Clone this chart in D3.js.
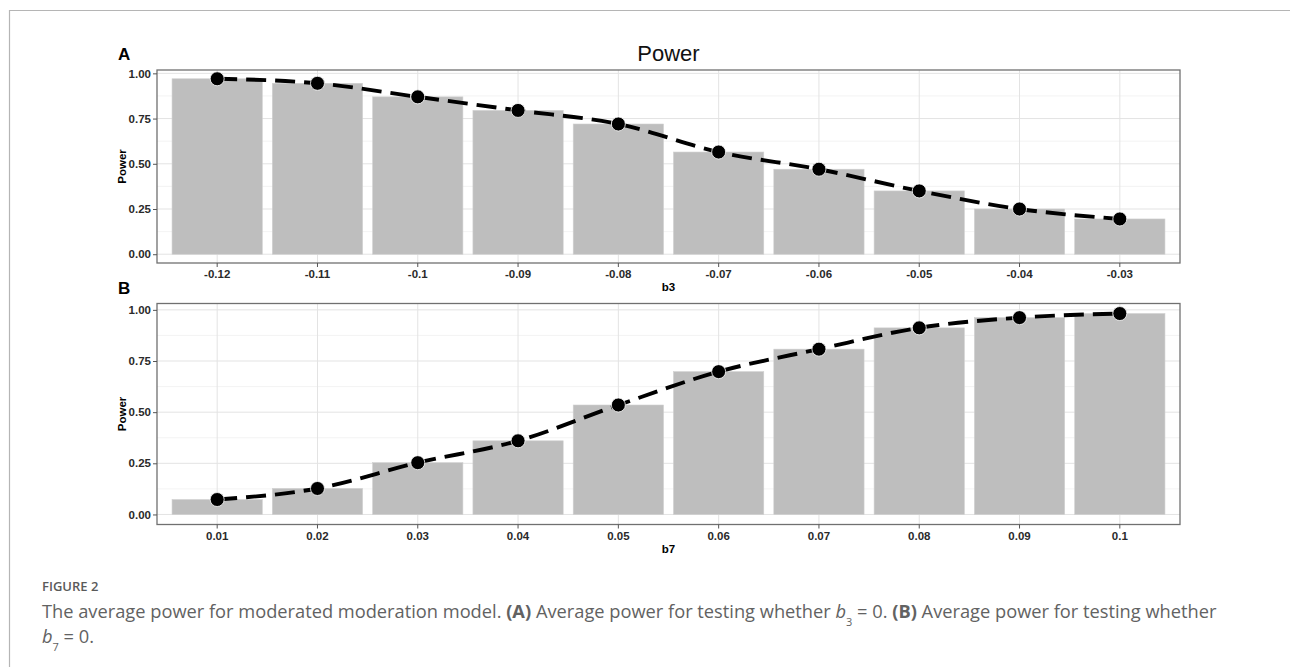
<!DOCTYPE html>
<html>
<head>
<meta charset="utf-8">
<script src="https://cdn.jsdelivr.net/npm/d3@7"></script>
<style>
  html, body { margin: 0; padding: 0; background: #fff; }
  svg { display: block; }
</style>
</head>
<body>
<div id="chart"></div>
<script>
// values
const catsA = ["-0.12", "-0.11", "-0.1", "-0.09", "-0.08", "-0.07", "-0.06", "-0.05", "-0.04", "-0.03"];
const powerA = [0.97, 0.945, 0.87, 0.795, 0.72, 0.565, 0.47, 0.35, 0.25, 0.195];
const catsB = ["0.01", "0.02", "0.03", "0.04", "0.05", "0.06", "0.07", "0.08", "0.09", "0.1"];
const powerB = [0.073, 0.127, 0.253, 0.36, 0.535, 0.698, 0.808, 0.912, 0.962, 0.982];
const yTicks = [0, 0.25, 0.5, 0.75, 1];
const yMinor = [0.125, 0.375, 0.625, 0.875];

const W = 1290, H = 667;
const svg = d3.select('#chart').append('svg')
  .attr('width', W)
  .attr('height', H);

// outer frame of the figure
svg.append('path')
  .attr('d', `M9.5,${H} V10.5 H${W}`)
  .attr('fill', 'none')
  .attr('stroke', '#b5b5b5')
  .attr('stroke-width', 1.2);

const plotFont = '"Liberation Sans", Arial, sans-serif';

function drawPanel(box, cats, vals, xTitle, letter) {
  const g = svg.append('g');

  const x = d3.scaleBand()
    .domain(cats)
    .range([box.left, box.right])
    .paddingInner(0.1)
    .paddingOuter(0.15);

  // ggplot style 5% expansion of [0, max]
  const maxV = d3.max(vals);
  const y = d3.scaleLinear()
    .domain([-0.05 * maxV, maxV * 1.05])
    .range([box.bottom, box.top]);

  // grid
  g.selectAll('.minor').data(yMinor).join('line')
    .attr('x1', box.left).attr('x2', box.right)
    .attr('y1', d => y(d)).attr('y2', d => y(d))
    .attr('stroke', '#f0f0f0').attr('stroke-width', 0.8);
  g.selectAll('.major').data(yTicks).join('line')
    .attr('x1', box.left).attr('x2', box.right)
    .attr('y1', d => y(d)).attr('y2', d => y(d))
    .attr('stroke', '#e3e3e3').attr('stroke-width', 1);
  g.selectAll('.vgrid').data(cats).join('line')
    .attr('x1', d => x(d) + x.bandwidth() / 2).attr('x2', d => x(d) + x.bandwidth() / 2)
    .attr('y1', box.top).attr('y2', box.bottom)
    .attr('stroke', '#e3e3e3').attr('stroke-width', 1);

  // bars
  g.selectAll('.bar').data(cats).join('rect')
    .attr('x', d => x(d))
    .attr('width', x.bandwidth())
    .attr('y', (d, i) => y(vals[i]))
    .attr('height', (d, i) => y(0) - y(vals[i]))
    .attr('fill', '#bebebe')
    .attr('stroke', '#d0d0d0')
    .attr('stroke-width', 0.6);

  // panel border
  g.append('rect')
    .attr('x', box.left).attr('y', box.top)
    .attr('width', box.right - box.left)
    .attr('height', box.bottom - box.top)
    .attr('fill', 'none')
    .attr('stroke', '#707070')
    .attr('stroke-width', 1.3);

  // axes
  const yAxis = g.append('g')
    .attr('transform', `translate(${box.left},0)`)
    .call(d3.axisLeft(y).tickValues(yTicks).tickFormat(d3.format('.2f')).tickSize(4).tickPadding(2));
  const xAxis = g.append('g')
    .attr('transform', `translate(0,${box.bottom})`)
    .call(d3.axisBottom(x).tickSize(4).tickPadding(3));
  [yAxis, xAxis].forEach(a => {
    a.select('.domain').remove();
    a.selectAll('.tick line').attr('stroke', '#555');
    a.selectAll('.tick text')
      .attr('fill', '#2a2a2a')
      .style('font-family', plotFont)
      .style('font-weight', 'bold')
      .style('font-size', '11.5px');
  });

  // dashed curve + points
  const line = d3.line()
    .x((d, i) => x(cats[i]) + x.bandwidth() / 2)
    .y(d => y(d))
    .curve(d3.curveMonotoneX);
  g.append('path')
    .datum(vals)
    .attr('d', line)
    .attr('fill', 'none')
    .attr('stroke', '#000')
    .attr('stroke-width', 3.9)
    .attr('stroke-dasharray', '20,9');
  g.selectAll('.pt').data(vals).join('circle')
    .attr('cx', (d, i) => x(cats[i]) + x.bandwidth() / 2)
    .attr('cy', d => y(d))
    .attr('r', 7)
    .attr('fill', '#000')
    .attr('stroke', '#fff')
    .attr('stroke-width', 0.8);

  // titles
  g.append('text')
    .attr('x', (box.left + box.right) / 2)
    .attr('y', box.bottom + 28)
    .attr('text-anchor', 'middle')
    .style('font-family', plotFont)
    .style('font-weight', 'bold')
    .style('font-size', '11.5px')
    .text(xTitle);
  g.append('text')
    .attr('transform', `translate(122,${(box.top + box.bottom) / 2}) rotate(-90)`)
    .attr('text-anchor', 'middle')
    .attr('dominant-baseline', 'central')
    .style('font-family', plotFont)
    .style('font-weight', 'bold')
    .style('font-size', '11.5px')
    .text('Power');
  g.append('text')
    .attr('x', 118)
    .attr('y', box.top - 10)
    .style('font-family', plotFont)
    .style('font-weight', 'bold')
    .style('font-size', '17px')
    .text(letter);
}

drawPanel({left: 157, right: 1180, top: 70, bottom: 263}, catsA, powerA, 'b3', 'A');
drawPanel({left: 157, right: 1180, top: 303.5, bottom: 524.5}, catsB, powerB, 'b7', 'B');

svg.append('text')
  .attr('x', 668.5)
  .attr('y', 61)
  .attr('text-anchor', 'middle')
  .style('font-family', plotFont)
  .style('font-size', '22px')
  .attr('fill', '#111')
  .text('Power');

// caption
const capFont = '"Open Sans", "Noto Sans", sans-serif';
svg.append('text')
  .attr('x', 42)
  .attr('y', 591)
  .attr('fill', '#5a5a5a')
  .style('font-family', capFont)
  .style('font-weight', 600)
  .style('font-size', '13px')
  .text('FIGURE 2');

const cap1 = svg.append('text')
  .attr('x', 42)
  .attr('y', 618)
  .attr('fill', '#626262')
  .style('font-family', capFont)
  .style('font-size', '15.5px');
cap1.append('tspan').text('The average power for moderated moderation model. ');
cap1.append('tspan').style('font-weight', 'bold').text('(A)');
cap1.append('tspan').text(' Average power for testing whether ');
cap1.append('tspan').style('font-style', 'italic').text('b');
cap1.append('tspan').attr('baseline-shift', 'sub').style('font-size', '11px').text('3');
cap1.append('tspan').text(' = 0. ');
cap1.append('tspan').style('font-weight', 'bold').text('(B)');
cap1.append('tspan').text(' Average power for testing whether');

const cap2 = svg.append('text')
  .attr('x', 42)
  .attr('y', 643)
  .attr('fill', '#626262')
  .style('font-family', capFont)
  .style('font-size', '15.5px');
cap2.append('tspan').style('font-style', 'italic').text('b');
cap2.append('tspan').attr('baseline-shift', 'sub').style('font-size', '11px').text('7');
cap2.append('tspan').text(' = 0.');

// fit caption line to the width seen in the figure
const want = 1218 - 42;
const got = cap1.node().getComputedTextLength();
if (got > 0) {
  const s = 15.5 * want / got;
  cap1.style('font-size', s + 'px');
  cap2.style('font-size', s + 'px');
}
</script>
</body>
</html>
